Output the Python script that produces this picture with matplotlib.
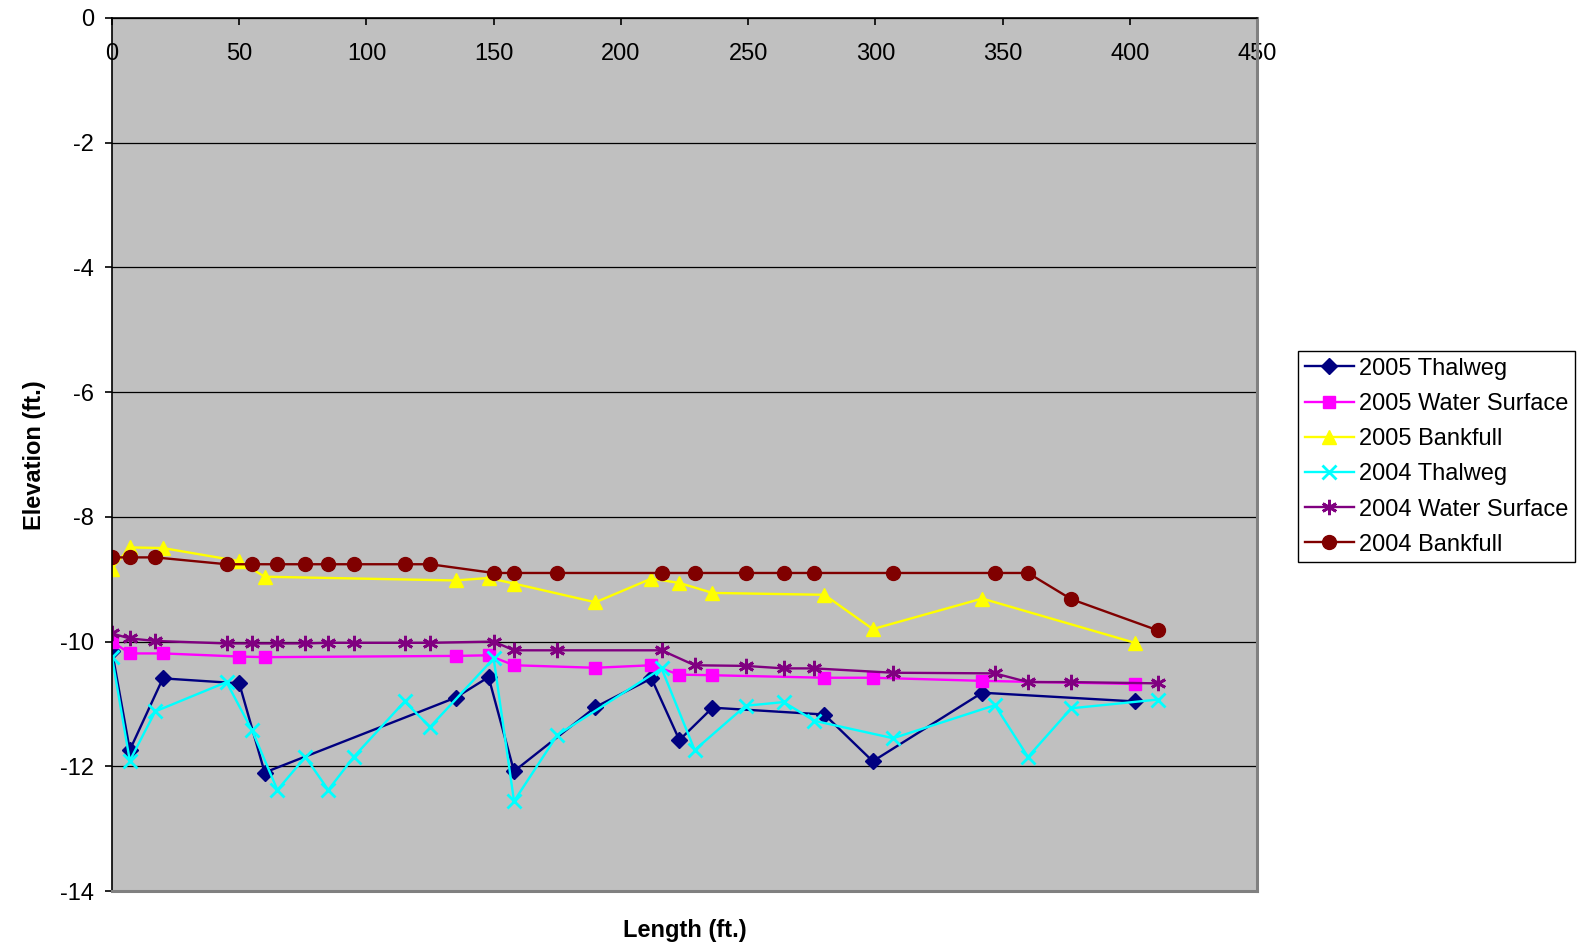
import matplotlib
matplotlib.use("Agg")
import matplotlib.pyplot as plt

plt.rcParams['font.family'] = ['Liberation Sans', 'DejaVu Sans']

# 2005 survey stations and elevations
x_2005 = [0, 7, 20, 50, 60, 135, 148, 158, 190, 212, 223, 236, 280, 299, 342, 402]
thalweg_2005 = [-10.15, -11.74, -10.59, -10.67, -12.10, -10.90, -10.57, -12.08,
                -11.05, -10.59, -11.58, -11.06, -11.17, -11.92, -10.82, -10.96]
water_2005 = [-10.0, -10.19, -10.19, -10.24, -10.25, -10.23, -10.22, -10.38,
              -10.42, -10.38, -10.53, -10.54, -10.58, -10.58, -10.63, -10.68]
bank_2005 = [-8.83, -8.49, -8.50, -8.71, -8.96, -9.02, -8.98, -9.07,
             -9.37, -8.99, -9.06, -9.22, -9.25, -9.80, -9.31, -10.02]

# 2004 survey stations and elevations
x_2004 = [0, 7, 17, 45, 55, 65, 76, 85, 95, 115, 125, 150, 158, 175, 216, 229,
          249, 264, 276, 307, 347, 360, 377, 411]
thalweg_2004 = [-10.25, -11.91, -11.12, -10.65, -11.42, -12.38, -11.85, -12.38,
                -11.85, -10.96, -11.37, -10.27, -12.56, -11.50, -10.43, -11.74,
                -11.03, -10.97, -11.27, -11.55, -11.02, -11.85, -11.07, -10.93]
water_2004 = [-9.87, -9.95, -9.99, -10.03, -10.03, -10.03, -10.03, -10.02,
              -10.02, -10.02, -10.02, -10.0, -10.14, -10.14, -10.14, -10.38,
              -10.39, -10.43, -10.43, -10.50, -10.51, -10.65, -10.65, -10.67]
bank_2004 = [-8.65, -8.65, -8.65, -8.76, -8.76, -8.76, -8.76, -8.76, -8.76,
             -8.76, -8.76, -8.9, -8.9, -8.9, -8.9, -8.9, -8.9, -8.9, -8.9,
             -8.9, -8.9, -8.9, -9.32, -9.82]

x_ticks = [0, 50, 100, 150, 200, 250, 300, 350, 400, 450]
y_ticks = [0, -2, -4, -6, -8, -10, -12, -14]

fs = 17

fig = plt.figure(figsize=(15.91, 9.47), dpi=100)
ax = fig.add_axes([112/1591, 1 - 891/947, (1257-112)/1591, (891-18)/947])
ax.set_facecolor('#C0C0C0')

lw = 1.7
ax.plot(x_2005, thalweg_2005, color='#000080', marker='D', ms=8, lw=lw,
        mec='#000080', label='2005 Thalweg')
ax.plot(x_2005, water_2005, color='#FF00FF', marker='s', ms=9, lw=lw,
        mec='#FF00FF', label='2005 Water Surface')
ax.plot(x_2005, bank_2005, color='#FFFF00', marker='^', ms=10.5, lw=lw,
        mec='#FFFF00', label='2005 Bankfull')
ax.plot(x_2004, thalweg_2004, color='#00FFFF', marker='x', ms=10, mew=2, lw=lw,
        label='2004 Thalweg')
ax.plot(x_2004, water_2004, color='#800080', marker=(6, 2, 0), ms=11, mew=2,
        lw=lw, label='2004 Water Surface')
ax.plot(x_2004, bank_2004, color='#800000', marker='o', ms=10, lw=lw,
        mec='#800000', label='2004 Bankfull')

ax.set_xlim(0, 450)
ax.set_ylim(-14, 0)
ax.set_xticks(x_ticks)
ax.set_yticks(y_ticks)
ax.set_yticklabels([str(v) for v in y_ticks])

ax.xaxis.tick_top()
ax.tick_params(axis='x', direction='in', length=5, width=1.2, pad=-34,
               labelsize=fs, colors='black')
ax.tick_params(axis='y', direction='out', length=5, width=1.2, pad=8,
               labelsize=fs)
ax.yaxis.grid(True, color='black', lw=0.9)
ax.set_axisbelow(True)

ax.spines['top'].set_color('black')
ax.spines['top'].set_linewidth(1.2)
ax.spines['left'].set_color('black')
ax.spines['left'].set_linewidth(1.2)
ax.spines['right'].set_color('#808080')
ax.spines['right'].set_linewidth(2.2)
ax.spines['bottom'].set_color('#808080')
ax.spines['bottom'].set_linewidth(2.2)

fig.text(35/1591, 1 - 455/947, 'Elevation (ft.)', rotation=90, fontsize=fs,
         fontweight='bold', ha='center', va='center')
fig.text(685/1591, 1 - 930/947, 'Length (ft.)', fontsize=fs,
         fontweight='bold', ha='center', va='center')

leg = ax.legend(loc='upper left', bbox_to_anchor=(1298/1591, 1 - 351/947),
                bbox_transform=fig.transFigure, fontsize=fs, frameon=True,
                fancybox=False, edgecolor='black', framealpha=1,
                borderaxespad=0, handlelength=2.1, handletextpad=0.2,
                labelspacing=0.56, borderpad=0.28, markerscale=1.0)
leg.get_frame().set_linewidth(1.0)

fig.savefig('out.png', dpi=100)
